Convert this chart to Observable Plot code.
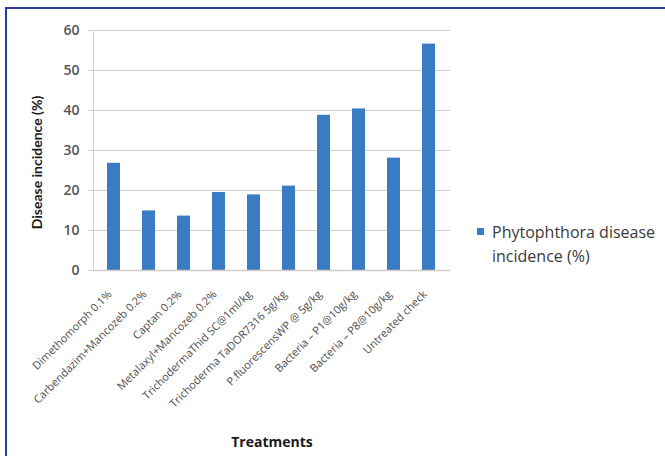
<!DOCTYPE html>
<html>
<head>
<meta charset="utf-8">
<script src="https://cdn.jsdelivr.net/npm/d3@7"></script>
<script src="https://cdn.jsdelivr.net/npm/@observablehq/plot@0.6"></script>
<style>
  html, body { margin: 0; padding: 0; background: #fff; }
  #wrap { position: relative; width: 665px; height: 456px; overflow: hidden; font-family: "Open Sans", Lato, sans-serif; }
  #wrap svg { position: absolute; left: 0; top: 0; }
  .border-top { position: absolute; left: 5px; top: 7px; width: 660px; height: 2px; background: #2f3b9c; }
  .border-left { position: absolute; left: 5px; top: 7px; width: 2px; height: 449px; background: #2f3b9c; }
  #legend { position: absolute; left: 477px; top: 220px; font-size: 16px; color: #3a3a3a; line-height: 24px; }
  #legend .sw { display: inline-block; width: 7px; height: 7px; background: #3a7cc4; margin-right: 8px; vertical-align: 3px; }
  #legend .l2 { padding-left: 15px; }
</style>
</head>
<body>
<div id="wrap">
  <div class="border-top"></div>
  <div class="border-left"></div>
  <div id="legend"><div><span class="sw"></span>Phytophthora disease</div><div class="l2">incidence (%)</div></div>
</div>
<script>
const treatments = [
  "Dimethomorph 0.1%",
  "Carbendazim+Mancozeb 0.2%",
  "Captan 0.2%",
  "Metalaxyl+Mancozeb 0.2%",
  "TrichodermaThid SC@1ml/kg",
  "Trichoderma TaDOR7316 5g/kg",
  "P.fluorescensWP @ 5g/kg",
  "Bacteria \u2013 P1@10g/kg",
  "Bacteria \u2013 P8@10g/kg",
  "Untreated check"
];
const incidence = [26.8, 14.9, 13.6, 19.5, 18.9, 21.1, 38.8, 40.4, 28.1, 56.6];
const yTicks = [0, 10, 20, 30, 40, 50, 60];
const yTitle = "Disease incidence (%)";
const xTitle = "Treatments";

const data = treatments.map((t, i) => ({treatment: t, value: incidence[i]}));
const grid = "#d6cdc6";
const textCol = "#4d4d4d";

const chart = Plot.plot({
  width: 665,
  height: 456,
  marginLeft: 93,
  marginRight: 215,
  marginTop: 30,
  marginBottom: 186,
  style: {fontFamily: "'Open Sans', Lato, sans-serif", background: "transparent"},
  x: {domain: treatments, paddingInner: 0.62, paddingOuter: 0.31},
  y: {domain: [0, 60]},
  marks: [
    Plot.gridY(yTicks, {stroke: grid, strokeOpacity: 1, strokeWidth: 1}),
    Plot.barY(data, {x: "treatment", y: "value", fill: "#3a7cc4"}),
    Plot.ruleY([0], {stroke: grid, strokeWidth: 1.5}),
    Plot.frame({anchor: "left", stroke: grid, strokeWidth: 1}),
    Plot.axisY(yTicks, {
      tickSize: 5, stroke: grid, tickPadding: 9, fontSize: 14, fill: "#555555", fontWeight: 600,
      label: null
    }),
    Plot.text([yTitle], {
      frameAnchor: "left", dx: -56, dy: 12, rotate: -90, textAnchor: "middle", lineAnchor: "middle",
      fontSize: 14, fontWeight: "bold", fill: "#1a1a1a", fontFamily: "Lato, sans-serif"
    }),
    Plot.axisX({
      tickSize: 0, tickRotate: -45, tickPadding: 22, dx: -4, fontSize: 11, fill: textCol,
      label: null
    }),
    Plot.text([xTitle], {
      frameAnchor: "bottom", dy: 172, textAnchor: "middle", lineAnchor: "middle",
      fontSize: 14, fontWeight: "bold", fill: "#1a1a1a"
    })
  ]
});
document.getElementById("wrap").prepend(chart);
</script>
</body>
</html>
